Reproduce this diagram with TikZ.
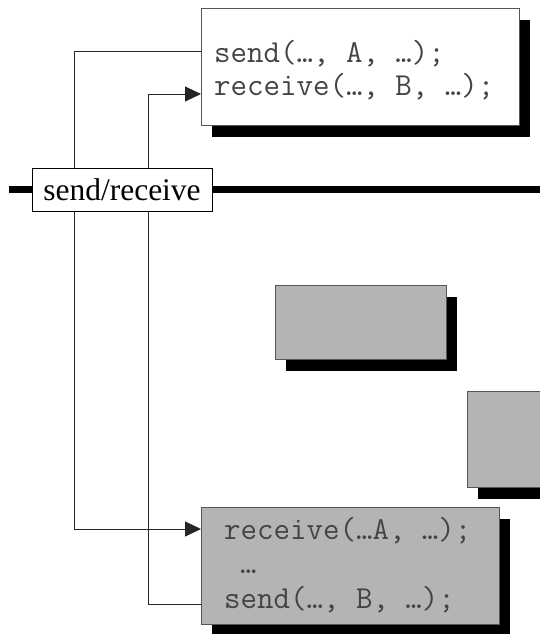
\documentclass[tikz,border=0pt]{standalone}
\usepackage{fontspec}
\setmainfont{Liberation Serif}
\usetikzlibrary{arrows.meta,shadows,calc}

\definecolor{panelgray}{HTML}{B4B4B4}
\definecolor{edgegray}{HTML}{555555}
\definecolor{codeink}{HTML}{444444}

\tikzset{
  panel/.style={draw=edgegray, line width=0.9pt, anchor=north west, inner sep=0pt,
    drop shadow={shadow xshift=11pt, shadow yshift=-12pt, fill=black, opacity=1}},
  codeline/.style={font=\ttfamily\fontsize{32}{36}\selectfont, text=codeink,
    anchor=base west, inner sep=0pt},
  link/.style={draw=black!85, line width=1pt},
  tip/.style={-{Triangle[length=16pt,width=15pt]}},
  bus/.style={line width=7pt, draw=black},
  label/.style={draw=black, fill=white, line width=0.9pt, inner sep=0pt,
    minimum width=180pt, minimum height=43pt,
    font=\fontsize{31.5}{36}\selectfont}
}

\begin{document}
\begin{tikzpicture}[x=1pt,y=-1pt]
  \useasboundingbox (0,0) rectangle (540,634);
  \clip (0,0) rectangle (540,634);

  % processes: the upper one is active, the lower ones are idle
  \node[panel, fill=white, minimum width=318pt, minimum height=117pt] (upper) at (201,8) {};
  \node[panel, fill=panelgray, minimum width=171pt, minimum height=74pt] (idleA) at (275,285) {};
  \node[panel, fill=panelgray, minimum width=100pt, minimum height=96pt] (idleB) at (467,391) {};
  \node[panel, fill=panelgray, minimum width=298pt, minimum height=117pt] (lower) at (201,507) {};

  % code inside the processes
  \node[codeline] (usend) at (214,63) {send(…, A, …);};
  \node[codeline] (urecv) at (214,95) {receive(…, B, …);};
  \node[codeline] (lrecv) at (224,539) {receive(…A, …);};
  \node[codeline] (ldots) at (240,573) {…};
  \node[codeline] (lsend) at (224,608) {send(…, B, …);};

  % connection points on the process borders
  \coordinate (ts) at (201,52);
  \coordinate (tr) at (201,94);
  \coordinate (br) at (201,529);
  \coordinate (bs) at (201,604);
  \coordinate (laneA) at (74,0);
  \coordinate (laneB) at (148,0);

  % message paths
  \draw[link, tip] (ts) -- (ts -| laneA) -- (br -| laneA) -- (br);
  \draw[link, tip] (bs) -- (bs -| laneB) -- (tr -| laneB) -- (tr);

  % communication bus
  \coordinate (busL) at (9,189);
  \coordinate (busR) at (540,189);
  \draw[bus] (busL) -- (busR);

  \node[label] (sr) at (122,189.5) {send/receive};
\end{tikzpicture}
\end{document}
